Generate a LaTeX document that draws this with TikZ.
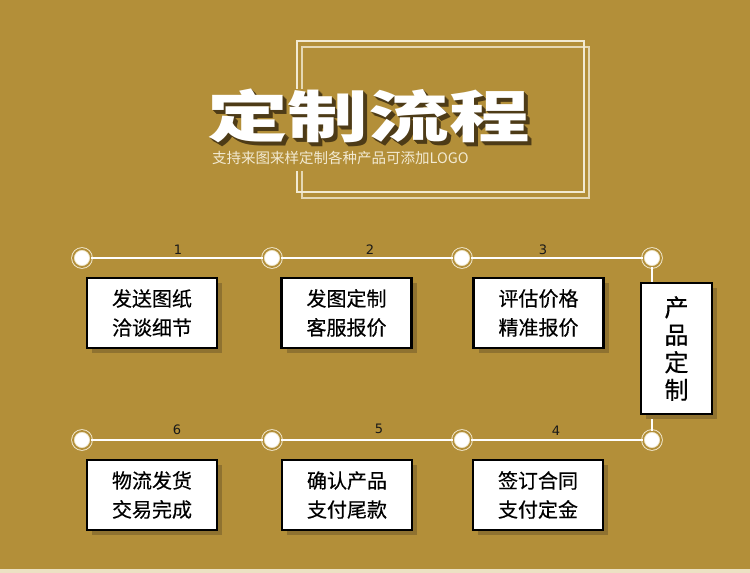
\documentclass[tikz,border=0pt]{standalone}
\usepackage{fontspec}
\usepackage{graphicx}
\usetikzlibrary{shadows}
\newfontfamily\cjk{Noto Sans CJK SC}
\newfontfamily\cjkbox{Noto Sans CJK SC}[FakeBold=0.35]
\newfontfamily\numfont{DejaVu Sans}
\definecolor{bg}{HTML}{B38F39}
\definecolor{cream}{HTML}{F2EAD2}
\definecolor{shade}{HTML}{4D3B17}
\definecolor{boxshadow}{HTML}{8F7230}
\definecolor{edge}{HTML}{D4ECEE}
\newcommand{\titleword}{\scalebox{1.44}[1]{定制流程}}
\newcommand{\shadowcopy}[1]{\makebox[0pt][l]{\hspace{#1pt}\raisebox{-#1pt}{\color{shade}\titleword}}}
\tikzset{
  dot/.style={circle, minimum size=18pt, inner sep=0pt, fill=white, draw=cream, double=bg, double distance=1.8pt, line width=0.9pt},
  track/.style={draw=white, line width=2pt},
  stepbox/.style={draw=black, fill=white, line width=1.3pt, minimum width=130pt, minimum height=70pt, inner sep=0pt, align=center,
     font=\cjkbox\fontsize{20}{29}\selectfont,
     drop shadow={shadow xshift=5pt, shadow yshift=-5pt, fill=boxshadow, opacity=1},
     double=edge, double distance=0pt},
  numlabel/.style={font=\numfont\fontsize{13}{13}\selectfont, text=black!90, inner sep=0pt},
  titletext/.style={font=\cjk\bfseries\fontsize{56}{56}\selectfont, inner sep=0pt}
}
\begin{document}
\begin{tikzpicture}[x=1pt,y=-1pt]
\useasboundingbox (0,0) rectangle (750,573);
\fill[bg] (0,0) rectangle (750,573);
\fill[cream!90!bg] (0,569) rectangle (750,573);
% frames
\draw[cream!80!bg, line width=1.2pt] (302,47) rectangle (589,198);
\draw[cream, line width=1.5pt] (297,41) rectangle (584,192);
\fill[bg] (200,89) rectangle (540,171);
% title with shadow in a single node
\node[titletext, text=white] (title) at (368.5,118) {\shadowcopy{4}\shadowcopy{3}\shadowcopy{2}\shadowcopy{1}\titleword};
\node[anchor=west, inner sep=0pt, text=cream, font=\cjk\fontsize{14.5}{14.5}\selectfont] (sub) at (212,158) {支持来图来样定制各种产品可添加LOGO};
% circles
\node[dot] (c1) at (82,258) {};
\node[dot] (c2) at (272,258) {};
\node[dot] (c3) at (462,258) {};
\node[dot] (c4) at (652,258) {};
\node[dot] (d1) at (82,440) {};
\node[dot] (d2) at (272,440) {};
\node[dot] (d3) at (462,440) {};
\node[dot] (d4) at (652,440) {};
\draw[track] (c1) -- (c2);
\draw[track] (c2) -- (c3);
\draw[track] (c3) -- (c4);
\draw[track] (c4) -- (d4);
\draw[track] (d4) -- (d3);
\draw[track] (d3) -- (d2);
\draw[track] (d2) -- (d1);
% numbers
\node[numlabel] (n1) at (178,250) {1};
\node[numlabel] (n2) at (370,250) {2};
\node[numlabel] (n3) at (543,250) {3};
\node[numlabel] (n4) at (556,431) {4};
\node[numlabel] (n5) at (379,429) {5};
\node[numlabel] (n6) at (177,430) {6};
% boxes
\node[stepbox] (b1) at (152,313) {发送图纸\\洽谈细节};
\node[stepbox] (b2) at (346.5,313) {发图定制\\客服报价};
\node[stepbox] (b3) at (538.5,313) {评估价格\\精准报价};
\node[stepbox, minimum width=71pt, minimum height=131pt, font=\cjkbox\fontsize{24}{27.5}\selectfont] (bp) at (676.5,348.5) {产\\品\\定\\制};
\node[stepbox] (b4) at (538,495) {签订合同\\支付定金};
\node[stepbox] (b5) at (347,495) {确认产品\\支付尾款};
\node[stepbox] (b6) at (152,495) {物流发货\\交易完成};
\end{tikzpicture}
\end{document}
